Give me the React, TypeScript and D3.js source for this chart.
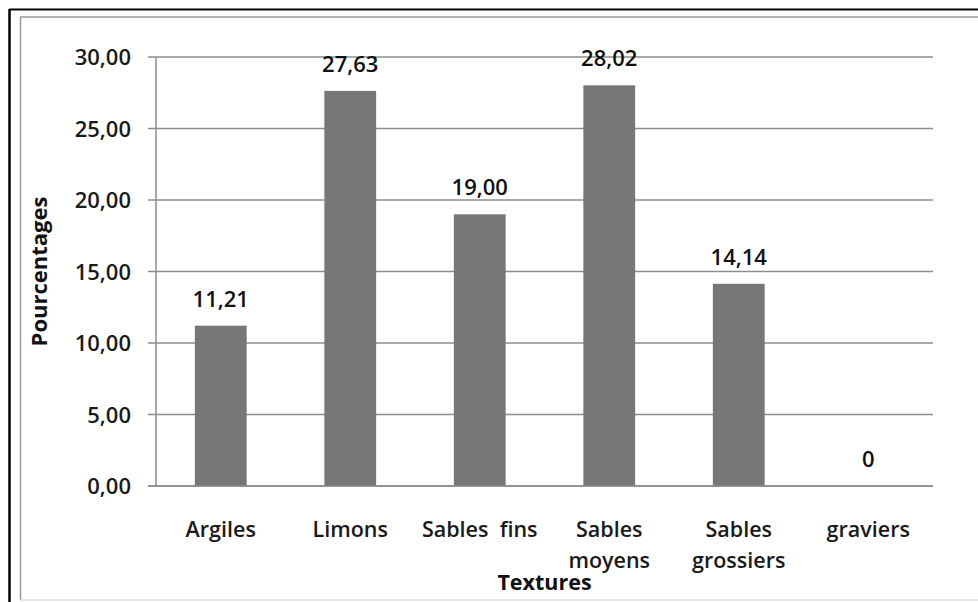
import React from "react";
import * as d3 from "d3";

const categories = ["Argiles", "Limons", "Sables  fins", "Sables\nmoyens", "Sables\ngrossiers", "graviers"];
const values = [11.21, 27.63, 19.0, 28.02, 14.14, 0];
const valueLabels = ["11,21", "27,63", "19,00", "28,02", "14,14", "0"];
const yTicks = [0, 5, 10, 15, 20, 25, 30];
const yTickLabels = ["0,00", "5,00", "10,00", "15,00", "20,00", "25,00", "30,00"];
const yTitle = "Pourcentages";
const xTitle = "Textures";

export default function App() {
  const W = 978, H = 602;
  const left = 156, right = 933, top = 57, bottom = 486;
  const xc = d3.scaleBand<string>().domain(categories).range([left, right]);
  const y = d3.scaleLinear().domain([0, 30]).range([bottom, top]);
  const font = "'Open Sans', 'DejaVu Sans', sans-serif";
  const bw = xc.bandwidth() / 2.5;
  return (
    <svg width={W} height={H} style={{ position: "absolute", left: 0, top: 0, background: "#fff" }} fontFamily={font}>
      <rect x={0} y={0} width={W} height={H} fill="#fff" />
      {/* outer black frame */}
      <line x1={9} y1={9.5} x2={W} y2={9.5} stroke="#000" strokeWidth={2} />
      <line x1={9.5} y1={9} x2={9.5} y2={H} stroke="#000" strokeWidth={2.5} />
      {/* inner gray frame */}
      <line x1={20} y1={17} x2={W} y2={17} stroke="#9a9a9a" strokeWidth={1.5} />
      <line x1={20.5} y1={17} x2={20.5} y2={600} stroke="#9a9a9a" strokeWidth={1.5} />
      <line x1={20} y1={600} x2={W} y2={600} stroke="#cfcfcf" strokeWidth={1} />
      {/* gridlines */}
      {yTicks.map((t, i) => (
        <g key={t}>
          <line x1={left - 8} x2={right} y1={y(t)} y2={y(t)} stroke="#8c8c8c" strokeWidth={1.5} />
          <text x={131} y={y(t) + 8} textAnchor="end" fontSize={22} fontWeight={600} fill="#1a1a1a">{yTickLabels[i]}</text>
        </g>
      ))}
      <line x1={left} x2={left} y1={top} y2={bottom} stroke="#8c8c8c" strokeWidth={1.5} />
      {/* bars */}
      {categories.map((c, i) => {
        const cx = (xc(c) as number) + xc.bandwidth() / 2;
        return (
          <g key={c}>
            {values[i] > 0 && (
              <rect x={cx - bw / 2} y={y(values[i])} width={bw} height={bottom - y(values[i])} fill="#777777" />
            )}
            <text x={cx} y={y(values[i]) - 19} textAnchor="middle" fontSize={22} fontWeight={600} fill="#111">{valueLabels[i]}</text>
            {c.split("\n").map((ln, j) => (
              <text key={j} x={cx} y={537 + j * 31} textAnchor="middle" fontSize={21.5} fontWeight={600} fill="#1a1a1a" style={{ whiteSpace: "pre" }}>{ln}</text>
            ))}
          </g>
        );
      })}
      <line x1={left - 8} x2={right} y1={bottom} y2={bottom} stroke="#8c8c8c" strokeWidth={1.5} />
      {/* axis titles */}
      <text x={(left + right) / 2} y={590} textAnchor="middle" fontSize={21.5} fontWeight="bold" fill="#111">{xTitle}</text>
      <text transform={`translate(47,${(top + bottom) / 2}) rotate(-90)`} textAnchor="middle" fontSize={22} fontWeight="bold" fill="#111">{yTitle}</text>
    </svg>
  );
}
